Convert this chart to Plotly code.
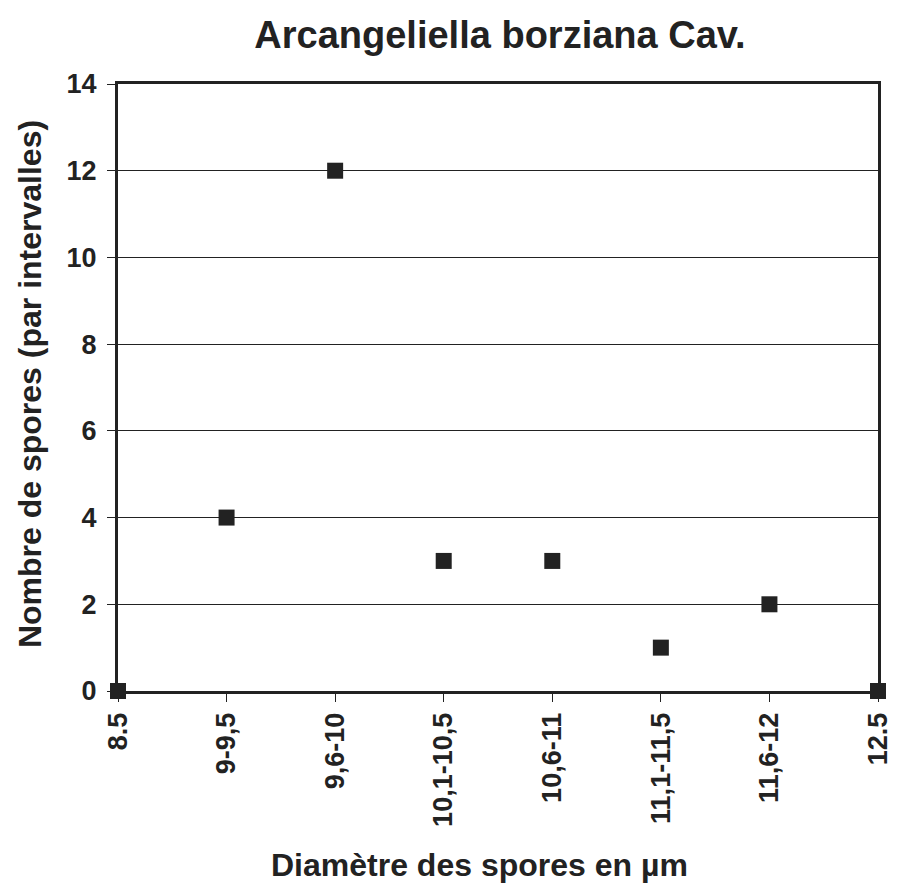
import plotly.graph_objects as go

categories = ["8.5", "9-9,5", "9,6-10", "10,1-10,5", "10,6-11", "11,1-11,5", "11,6-12", "12.5"]
counts = [0, 4, 12, 3, 3, 1, 2, 0]
y_ticks = [0, 2, 4, 6, 8, 10, 12, 14]

ink = "#222222"
font_family = "Liberation Sans, Arial, sans-serif"

fig = go.Figure()
fig.add_trace(go.Scatter(
    x=categories, y=counts, mode="markers",
    marker=dict(symbol="square", size=16, color=ink, line=dict(width=0)),
    cliponaxis=False, showlegend=False,
))

fig.update_layout(
    width=897, height=892,
    margin=dict(l=110, r=25, t=76, b=209),
    paper_bgcolor="white", plot_bgcolor="white",
    font=dict(family=font_family, color=ink),
    title=dict(text="<b>Arcangeliella borziana Cav.</b>", x=0.5485, xanchor="center",
               y=0.9697, yanchor="middle", font=dict(size=38, color=ink)),
    xaxis=dict(
        type="category", range=[0, 7],
        showline=True, linecolor=ink, linewidth=3, mirror=True,
        ticks="outside", ticklen=8, tickcolor=ink, tickwidth=1,
        tickangle=-90, tickfont=dict(size=27, color=ink, family=font_family, weight="bold"),
        showgrid=False, zeroline=False,
    ),
    yaxis=dict(
        range=[0, 14], tickvals=y_ticks,
        showline=True, linecolor=ink, linewidth=3, mirror=True,
        ticks="outside", ticklen=8, tickcolor=ink, tickwidth=1, ticklabelstandoff=5,
        tickfont=dict(size=27, color=ink, family=font_family, weight="bold"),
        showgrid=True, gridcolor=ink, gridwidth=1, zeroline=False,
    ),
    annotations=[
        dict(text="<b>Diamètre des spores en µm</b>", xref="paper", yref="paper",
             x=0.475, y=-0.2867, xanchor="center", yanchor="middle", showarrow=False,
             font=dict(size=32, color=ink)),
        dict(text="<b>Nombre de spores (par intervalles)</b>", xref="paper", yref="paper",
             x=-0.1155, y=0.506, xanchor="center", yanchor="middle", showarrow=False,
             textangle=-90, font=dict(size=32, color=ink)),
    ],
)

fig.write_html("out.html")
